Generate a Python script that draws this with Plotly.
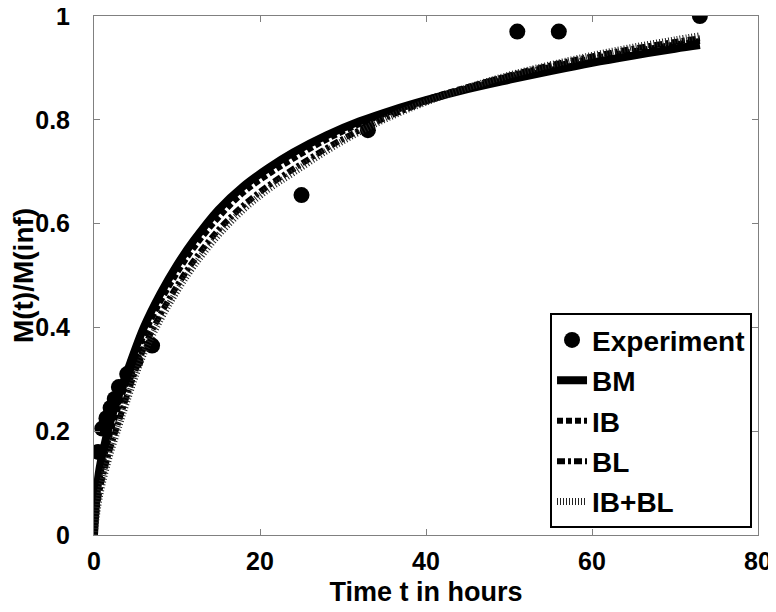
import plotly.graph_objects as go

# Experimental data
exp_t = [0.5, 1.0, 1.5, 2.0, 2.5, 3.0, 4.0, 5.0, 7.0, 25.0, 33.0, 51.0, 56.0, 73.0]
exp_y = [0.16, 0.205, 0.225, 0.245, 0.262, 0.285, 0.31, 0.335, 0.365, 0.655, 0.78, 0.97, 0.97, 1.0]

# Model curves
t_model = [0, 0.5, 1, 2, 3, 4, 6, 8, 10, 12, 15, 18, 21, 24, 28, 32, 36, 40, 45, 50, 55, 60, 65, 70, 73]
bm   = [0, 0.11, 0.155, 0.22, 0.27, 0.315, 0.40, 0.465, 0.52, 0.567, 0.627, 0.672, 0.707, 0.737, 0.770, 0.797, 0.819, 0.838, 0.859, 0.877, 0.894, 0.910, 0.924, 0.937, 0.944]
ib   = [0, 0.09, 0.135, 0.20, 0.25, 0.30, 0.385, 0.45, 0.505, 0.553, 0.612, 0.660, 0.695, 0.725, 0.762, 0.792, 0.817, 0.839, 0.863, 0.884, 0.902, 0.918, 0.932, 0.945, 0.952]
bl   = [0, 0.07, 0.11, 0.17, 0.22, 0.27, 0.36, 0.425, 0.48, 0.528, 0.588, 0.635, 0.673, 0.705, 0.745, 0.780, 0.810, 0.835, 0.862, 0.885, 0.905, 0.922, 0.937, 0.950, 0.957]
ibbl = [0, 0.06, 0.10, 0.16, 0.21, 0.26, 0.35, 0.415, 0.47, 0.518, 0.578, 0.627, 0.666, 0.698, 0.740, 0.777, 0.808, 0.834, 0.862, 0.886, 0.906, 0.924, 0.940, 0.954, 0.962]

x_ticks = [0, 20, 40, 60, 80]
y_ticks = [0, 0.2, 0.4, 0.6, 0.8, 1]
y_ticktext = ["0", "0.2", "0.4", "0.6", "0.8", "1"]

FONT = "Liberation Sans, Arial, sans-serif"

fig = go.Figure()

fig.add_trace(go.Scatter(x=exp_t, y=exp_y, mode="markers", name="Experiment",
                         legendgroup="a",
                         marker=dict(color="black", size=16, symbol="circle")))
fig.add_trace(go.Scatter(x=t_model, y=bm, mode="lines", name="BM", legendgroup="b",
                         line=dict(color="black", width=8, shape="spline")))
fig.add_trace(go.Scatter(x=t_model, y=ib, mode="lines", name="IB", legendgroup="c",
                         line=dict(color="black", width=6, dash="6px,3px", shape="spline")))
fig.add_trace(go.Scatter(x=t_model, y=bl, mode="lines", name="BL", legendgroup="d",
                         line=dict(color="black", width=6, dash="8px,3px,3px,3px", shape="spline")))
fig.add_trace(go.Scatter(x=t_model, y=ibbl, mode="lines", name="IB+BL", legendgroup="e",
                         line=dict(color="#222222", width=7, dash="1px,2px", shape="spline")))

axis_common = dict(
    showline=True, linecolor="#808080", linewidth=1, mirror="ticks",
    ticks="inside", ticklen=6, tickcolor="#808080", tickwidth=1,
    showgrid=False, zeroline=False, automargin=False,
    ticklabeloverflow="allow",
    tickfont=dict(family=FONT, size=25, color="black", weight="bold"),
)

fig.update_xaxes(range=[0, 80], tickvals=x_ticks, ticklabelstandoff=4,
                 title=dict(text="Time t in hours", standoff=8,
                            font=dict(family=FONT, size=27, color="black", weight="bold")),
                 **axis_common)
fig.update_yaxes(range=[0, 1], tickvals=y_ticks, ticktext=y_ticktext, ticklabelstandoff=18,
                 title=dict(text="M(t)/M(inf)", standoff=6,
                            font=dict(family=FONT, size=28, color="black", weight="bold")),
                 **axis_common)

# The page body has an 8px offset, so the figure is 768x604 and margins compensate.
fig.update_layout(
    width=768, height=604,
    margin=dict(l=86, r=18, t=8, b=77),
    paper_bgcolor="white", plot_bgcolor="white",
    showlegend=True,
    legend=dict(x=0.991, y=0.013, xanchor="right", yanchor="bottom",
                bgcolor="white", bordercolor="black", borderwidth=2,
                tracegroupgap=1,
                font=dict(family=FONT, size=28, color="black", weight="bold")),
)

fig.write_html("out.html")
